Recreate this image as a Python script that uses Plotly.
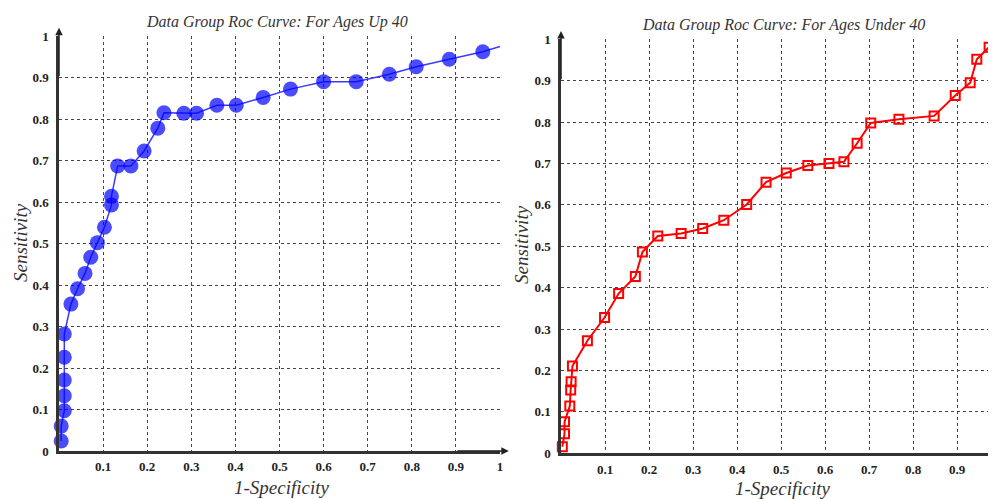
import plotly.graph_objects as go

# ---- data: Ages Up 40 (blue) ----
up40_fpr = [0.005, 0.005, 0.012, 0.012, 0.012, 0.012, 0.012, 0.027, 0.042, 0.059, 0.072,
            0.087, 0.103, 0.119, 0.119, 0.133, 0.163, 0.193, 0.224, 0.238, 0.283, 0.312,
            0.358, 0.402, 0.463, 0.525, 0.600, 0.674, 0.749, 0.810, 0.885, 0.961, 1.0]
up40_tpr = [0.024, 0.060, 0.097, 0.133, 0.171, 0.226, 0.282, 0.354, 0.391, 0.428, 0.467,
            0.502, 0.539, 0.593, 0.614, 0.687, 0.687, 0.723, 0.778, 0.815, 0.814, 0.814,
            0.833, 0.833, 0.852, 0.872, 0.890, 0.890, 0.908, 0.926, 0.944, 0.962, 0.975]

# ---- data: Ages Under 40 (red) ----
under40_fpr = [0.003, 0.008, 0.008, 0.020, 0.022, 0.023, 0.026, 0.060, 0.099, 0.131, 0.169,
               0.185, 0.220, 0.273, 0.322, 0.370, 0.422, 0.466, 0.512, 0.561, 0.609, 0.643,
               0.673, 0.704, 0.768, 0.848, 0.896, 0.930, 0.945, 0.973, 0.983]
under40_tpr = [0.016, 0.047, 0.076, 0.114, 0.153, 0.173, 0.211, 0.272, 0.328, 0.386, 0.427,
               0.486, 0.525, 0.531, 0.543, 0.563, 0.601, 0.655, 0.677, 0.695, 0.700, 0.704,
               0.749, 0.798, 0.807, 0.815, 0.864, 0.895, 0.952, 0.981, 0.988]

tick_vals = [0.1, 0.2, 0.3, 0.4, 0.5, 0.6, 0.7, 0.8, 0.9, 1.0]
tick_text = ["0.1", "0.2", "0.3", "0.4", "0.5", "0.6", "0.7", "0.8", "0.9", "1"]
ytick_vals = [0, 0.1, 0.2, 0.3, 0.4, 0.5, 0.6, 0.7, 0.8, 0.9, 1.0]
ytick_text = ["0", "0.1", "0.2", "0.3", "0.4", "0.5", "0.6", "0.7", "0.8", "0.9", "1"]

titles = ["Data Group Roc Curve: For Ages Up 40", "Data Group Roc Curve: For Ages Under 40"]
x_title = "1-Specificity"
y_title = "Sensitivity"

W, H = 996, 499
OFF = 8  # page body margin offset
SERIF = "Liberation Serif, Times New Roman, serif"

fig = go.Figure()

sizes_left = [15] * (len(up40_fpr) - 1) + [0]
fig.add_trace(go.Scatter(
    x=up40_fpr, y=up40_tpr, mode="lines+markers", xaxis="x", yaxis="y",
    line=dict(color="#3a3aff", width=1.5),
    marker=dict(color="#0000ff", size=sizes_left, line=dict(width=0)),
    cliponaxis=False, showlegend=False))

fig.add_trace(go.Scatter(
    x=under40_fpr, y=under40_tpr, mode="lines+markers", xaxis="x2", yaxis="y2",
    line=dict(color="#ff0000", width=2),
    marker=dict(symbol="square-open", color="#ff0000", size=9, line=dict(width=2)),
    cliponaxis=False, showlegend=False))


def px2x(p):
    return (p - OFF) / W


def py2y(p):
    return 1 - (p - OFF) / H


tickfont = dict(family=SERIF, size=13, color="#222", weight="bold")
common_x = dict(tickvals=tick_vals, ticktext=tick_text, showgrid=True, gridcolor="#444",
                griddash="dot", gridwidth=1, showline=True, linecolor="#333", linewidth=2.5,
                zeroline=False, ticks="", tickfont=tickfont, ticklabelstandoff=2,
                automargin=False)
common_y = dict(tickvals=ytick_vals, ticktext=ytick_text, showgrid=True, gridcolor="#444",
                griddash="dot", gridwidth=1, showline=True, linecolor="#333", linewidth=2.5,
                zeroline=False, ticks="", tickfont=tickfont, ticklabelstandoff=5,
                automargin=False)

L = dict(x0=59, x1=500, y0=451, y1=36)
R = dict(x0=561, x1=1001, y0=453.3, y1=39.3)

fig.update_layout(
    width=W, height=H, margin=dict(l=0, r=0, t=0, b=0, autoexpand=False),
    paper_bgcolor="white", plot_bgcolor="white",
    xaxis=dict(domain=[px2x(L["x0"]), px2x(L["x1"])], range=[0, 1], anchor="y", **common_x),
    yaxis=dict(domain=[py2y(L["y0"]), py2y(L["y1"])], range=[0, 1], anchor="x", **common_y),
    xaxis2=dict(domain=[px2x(R["x0"]), px2x(R["x1"])], range=[0, 1], anchor="y2", **common_x),
    yaxis2=dict(domain=[py2y(R["y0"]), py2y(R["y1"])], range=[0, 1], anchor="x2", **common_y),
)

ann = []
title_font = dict(family=SERIF, size=16, color="#333", style="italic")
axis_font = dict(family=SERIF, size=19, color="#333", style="italic")
# chart titles
ann.append(dict(text=titles[0], x=px2x(277), y=py2y(22), xref="paper", yref="paper",
                xanchor="center", yanchor="middle", showarrow=False, font=title_font))
ann.append(dict(text=titles[1], x=px2x(783), y=py2y(25), xref="paper", yref="paper",
                xanchor="center", yanchor="middle", showarrow=False, font=title_font))
# axis titles
for xc, yc in [(282, 487), (783, 488)]:
    ann.append(dict(text=x_title, x=px2x(xc), y=py2y(yc), xref="paper", yref="paper",
                    xanchor="center", yanchor="middle", showarrow=False, font=axis_font))
for xc, yc in [(20, 243), (522, 245)]:
    ann.append(dict(text=y_title, x=px2x(xc), y=py2y(yc), xref="paper", yref="paper",
                    xanchor="center", yanchor="middle", showarrow=False, textangle=-90,
                    font=axis_font))
# axis arrows
arrow = dict(showarrow=True, arrowhead=2, arrowsize=1, arrowwidth=1.5, arrowcolor="#222", text="")
ann.append(dict(x=0, y=1.02, ax=0, ay=0.9, xref="x", yref="y", axref="x", ayref="y", **arrow))
ann.append(dict(x=1.02, y=0, ax=0.9, ay=0, xref="x", yref="y", axref="x", ayref="y", **arrow))
ann.append(dict(x=0, y=1.02, ax=0, ay=0.9, xref="x2", yref="y2", axref="x2", ayref="y2", **arrow))
fig.update_layout(annotations=ann)

fig.write_html("out.html")
